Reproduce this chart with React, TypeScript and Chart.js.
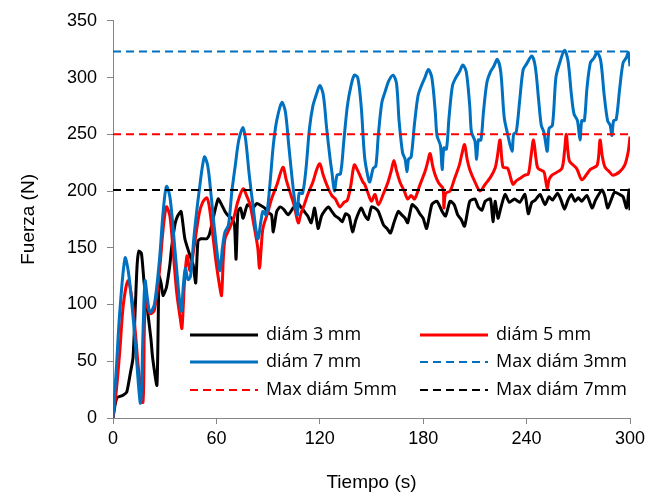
import { useEffect, useRef } from 'react';
import { Chart, registerables } from 'chart.js';

Chart.register(...registerables);

// ---- Data (time in s, force in N) ----
const t3 = [0, 1, 2.3, 4, 5.8, 8, 10, 11.6, 13, 14, 15, 16.5, 18, 20, 22, 23, 25.5, 26.7, 28, 29, 31, 33, 34, 36, 37.5, 39.5, 41.7, 44.7, 46.5, 48, 49.3, 51, 54.5, 56, 58, 61, 63, 65, 67, 69, 70.5, 71.4, 72.5, 74, 75.5, 78, 81, 83.5, 86, 88, 90, 92, 93, 95, 97, 99, 101.6, 104.5, 107.5, 109, 111, 113, 115, 117, 119, 121, 123, 125, 127, 129, 131, 133, 135, 137, 139, 141, 144, 146, 148, 150, 152, 154, 157, 159, 161, 163, 165.5, 167.5, 169.5, 171, 173.5, 176, 178, 180, 182, 185, 188, 191, 193, 195.6, 198, 200, 202, 204, 207, 210, 212, 214, 216, 219, 220.5, 221.7, 223.4, 225, 227.5, 230, 233, 236, 239, 241, 243, 245, 247.8, 250.7, 253, 255, 258, 260, 262, 264, 266, 268, 270, 272, 275, 278, 280, 283.8, 285.5, 287, 289, 291, 294, 296, 298, 299.5, 300];
const f3 = [0, 10, 18, 19, 20, 23, 39, 53, 100, 135, 147, 145, 120, 95, 70, 53, 29, 125, 118, 108, 115, 135, 150, 171, 178, 182, 158, 143, 135, 119, 156, 158, 158, 162, 175, 193, 188, 182, 178, 176, 170, 140, 182, 185, 176, 188, 185, 189, 187, 185, 181, 179, 164, 182, 186, 184, 179, 185, 189, 186, 182, 178, 172, 185, 167, 178, 183, 186, 182, 178, 176, 173, 180, 178, 164, 175, 185, 179, 175, 186, 185, 182, 170, 167, 163, 172, 182, 179, 176, 172, 188, 185, 180, 176, 167, 188, 191, 182, 178, 191, 188, 179, 175, 169, 191, 193, 186, 183, 191, 193, 173, 191, 176, 185, 197, 190, 193, 190, 197, 180, 190, 192, 197, 188, 195, 192, 198, 192, 184, 192, 197, 191, 194, 191, 196, 185, 192, 201, 195, 185, 192, 199, 197, 195, 185, 201, 183];

const t5 = [0, 2, 4, 6, 8.7, 11, 13, 15, 17.4, 18.2, 19, 20, 21.5, 24, 27, 29, 31, 33, 35, 37, 39, 40, 41.5, 43, 44.7, 47, 50, 52, 54.5, 56, 58, 60, 62, 63, 64, 65, 67, 70, 72.5, 75.5, 77.5, 79.5, 82, 84, 85, 86, 87, 90, 92, 95, 98.6, 100.5, 102.7, 105, 107.5, 109, 111, 113, 116, 118, 120, 122, 125, 127, 129, 131.7, 134, 136, 138, 140, 142, 145, 146, 148, 150, 152, 154, 157, 159.6, 161.5, 163, 164.5, 166.5, 169, 171, 173, 175, 178, 181, 182.5, 184, 185.5, 187, 189, 191.5, 192, 193, 195.6, 198, 201, 202.5, 204, 205.5, 207, 210, 213, 216, 219, 221.7, 223, 224.6, 226.3, 229, 232, 234, 236, 239, 241, 242.5, 244, 245.5, 246.6, 250, 251, 252, 253, 254.7, 257, 260.5, 262, 263, 264, 265, 269, 272, 275, 277, 281, 282.6, 284, 285.5, 288, 290, 294, 297, 299, 300];
const f5 = [0, 25, 60, 100, 121, 105, 75, 40, 14, 80, 112, 100, 92, 95, 130, 165, 186, 178, 145, 110, 88, 79, 120, 143, 130, 150, 180, 190, 194, 185, 160, 135, 115, 108, 140, 158, 165, 176, 191, 202, 196, 188, 168, 150, 132, 150, 167, 182, 193, 205, 221, 210, 199, 188, 172, 180, 188, 197, 208, 218, 224, 214, 202, 196, 193, 186, 190, 192, 205, 223, 218, 208, 206, 198, 191, 197, 188, 198, 208, 218, 227, 218, 208, 200, 193, 196, 193, 205, 217, 225, 233, 222, 214, 207, 202, 185, 198, 200, 210, 223, 233, 241, 228, 219, 208, 200, 206, 212, 220, 230, 245, 221, 220, 206, 209, 211, 214, 215, 230, 245, 228, 220, 217, 210, 202, 210, 214, 216, 220, 235, 250, 235, 226, 220, 210, 215, 219, 223, 245, 230, 221, 217, 214, 217, 223, 235, 248];

const t7 = [0, 2, 4, 7, 9, 11, 13, 16, 17.5, 18.6, 20, 21.5, 24, 27, 29, 31, 33, 35, 37, 39.5, 41, 42, 43.5, 45, 47, 50, 53, 55, 57, 59, 62, 63.5, 65, 67, 69, 71, 73, 75.5, 77, 79, 81, 84, 86, 87, 89, 91, 93, 95, 98, 100, 102, 104, 106, 107, 108, 110, 112, 114, 116, 118, 120, 122, 124, 126, 127, 128.5, 130, 132, 134, 136, 138, 140, 142, 144, 146, 148, 149, 151, 152.5, 154, 156, 158, 160, 162.5, 164.5, 166, 168, 169.5, 170.6, 171.5, 173, 175, 177, 179, 181, 183, 185, 187, 188, 190, 191, 192, 193.5, 195, 197, 199, 201, 203, 205, 207, 208, 210, 211, 212, 213.5, 215, 217, 219, 221, 223, 225, 227, 229, 231.5, 232.5, 234, 236, 238, 240, 243, 245, 247, 248.5, 250, 252, 253, 255, 257, 259, 262, 264, 266, 267.5, 269.5, 271, 272, 273.5, 275, 277, 279, 281, 283, 285, 287, 288.5, 289.5, 290.5, 292, 294, 296, 298, 299, 300];
const f7 = [0, 45, 95, 141, 128, 100, 65, 13, 80, 121, 105, 93, 100, 140, 180, 204, 195, 165, 130, 94, 120, 132, 122, 125, 160, 200, 230, 222, 195, 165, 130, 150, 164, 170, 200, 223, 245, 256, 245, 215, 190, 158, 175, 182, 179, 205, 240, 262, 278, 270, 240, 210, 185, 179, 198, 198, 220, 255, 275, 285, 293, 285, 255, 228, 217, 200, 214, 215, 245, 275, 292, 302, 300, 275, 230, 212, 208, 220, 222, 250, 278, 288, 297, 302, 295, 262, 234, 228, 217, 228, 230, 260, 284, 293, 300, 307, 300, 270, 249, 240, 219, 238, 237, 265, 293, 300, 305, 311, 305, 275, 252, 244, 228, 245, 245, 270, 296, 305, 310, 316, 305, 265, 250, 235, 250, 252, 280, 307, 312, 319, 310, 280, 258, 252, 235, 255, 258, 300, 312, 324, 315, 285, 268, 262, 245, 262, 262, 290, 313, 317, 322, 315, 285, 262, 258, 249, 262, 263, 290, 313, 318, 322, 310];

const maxLevels = [323, 250, 201];
const seriesLabels = ['diám 3 mm', 'diám 5 mm', 'diám 7 mm', 'Max diám 3mm', 'Max diám 5mm', 'Max diám 7mm'];
const xRange = [0, 300];
const yRange = [0, 350];
const xStep = 60;
const yStep = 50;

const BLACK = '#000000';
const RED = '#FF0000';
const BLUE = '#0070C0';
const AXIS = '#868686';

const pts = (t: number[], f: number[]) => t.map((x, i) => ({ x, y: f[i] }));
const hline = (v: number) => [{ x: xRange[0], y: v }, { x: xRange[1], y: v }];

const insideLegend = {
  id: 'insideLegend',
  afterDraw(chart: any) {
    const { ctx, chartArea } = chart;
    const rows = [chartArea.bottom - 83, chartArea.bottom - 56, chartArea.bottom - 28];
    const cols = [chartArea.left + 77, chartArea.left + 307];
    ctx.save();
    ctx.font = "18px 'Open Sans'";
    ctx.textBaseline = 'middle';
    ctx.textAlign = 'left';
    chart.data.datasets.forEach((ds: any, i: number) => {
      const x0 = cols[i % 2];
      const y = rows[Math.floor(i / 2)];
      ctx.beginPath();
      ctx.strokeStyle = ds.borderColor;
      ctx.lineWidth = ds.borderDash ? 2 : 3;
      ctx.setLineDash(ds.borderDash || []);
      ctx.moveTo(x0, y);
      ctx.lineTo(x0 + 68, y);
      ctx.stroke();
      ctx.setLineDash([]);
      ctx.fillStyle = '#000';
      ctx.fillText(ds.label, x0 + 76, y);
    });
    ctx.restore();
  },
};

export default function App() {
  const ref = useRef<HTMLCanvasElement>(null);
  useEffect(() => {
    if (!ref.current) return;
    const line = (label: string, data: any, color: string, order: number, tension: number) => ({
      label, data, borderColor: color, backgroundColor: color, borderWidth: 3,
      pointRadius: 0, tension, fill: false, order,
    });
    const dash = (label: string, v: number, color: string) => ({
      label, data: hline(v), borderColor: color, backgroundColor: color, borderWidth: 2,
      borderDash: [8, 5], pointRadius: 0, tension: 0, fill: false, order: 0,
    });
    const chart = new Chart(ref.current, {
      type: 'line',
      data: {
        datasets: [
          line(seriesLabels[0], pts(t3, f3), BLACK, 3, 0.2),
          line(seriesLabels[1], pts(t5, f5), RED, 2, 0.3),
          line(seriesLabels[2], pts(t7, f7), BLUE, 1, 0.3),
          dash(seriesLabels[3], maxLevels[0], BLUE),
          dash(seriesLabels[4], maxLevels[1], RED),
          dash(seriesLabels[5], maxLevels[2], BLACK),
        ] as any,
      },
      options: {
        animation: false,
        responsive: false,
        layout: { padding: { top: 18, right: 29, left: 0, bottom: 0 } },
        plugins: { legend: { display: false }, tooltip: { enabled: false } },
        scales: {
          x: {
            type: 'linear', min: xRange[0], max: xRange[1],
            ticks: { stepSize: xStep, color: '#000', padding: 4, font: { family: "'Liberation Sans'", size: 18 } },
            grid: { drawOnChartArea: false, drawTicks: true, tickLength: 6, color: AXIS },
            border: { color: AXIS, width: 1 },
            title: { display: true, text: 'Tiempo (s)', color: '#000', font: { family: "'Liberation Sans'", size: 19 }, padding: { top: 0, bottom: 2 } },
            afterFit: (s: any) => { s.height = 78; },
          },
          y: {
            type: 'linear', min: yRange[0], max: yRange[1],
            ticks: { stepSize: yStep, color: '#000', padding: 10, font: { family: "'Liberation Sans'", size: 18 } },
            grid: { drawOnChartArea: false, drawTicks: true, tickLength: 6, color: AXIS },
            border: { color: AXIS, width: 1 },
            title: { display: true, text: 'Fuerza (N)', color: '#000', font: { family: "'Liberation Sans'", size: 19 }, padding: { top: 17, bottom: 0 } },
            afterFit: (s: any) => { s.width = 113; },
          },
        },
      },
      plugins: [insideLegend],
    });
    return () => chart.destroy();
  }, []);
  return (
    <div style={{ position: 'absolute', left: 0, top: 0, width: 659, height: 496, background: '#fff' }}>
      <canvas ref={ref} width={659} height={496} />
    </div>
  );
}
